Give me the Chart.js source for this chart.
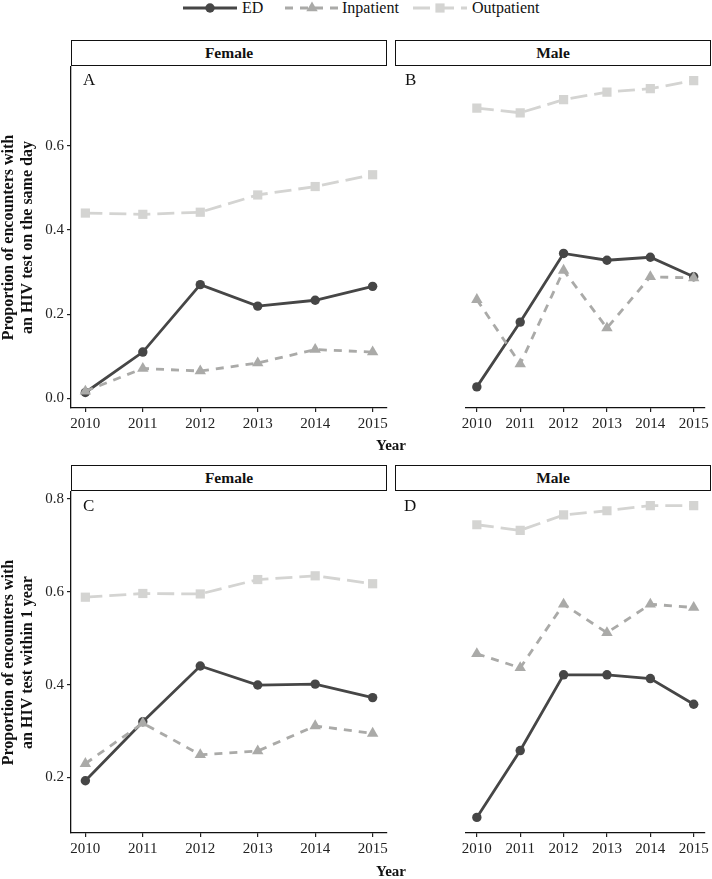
<!DOCTYPE html>
<html>
<head>
<meta charset="utf-8">
<script src="https://cdn.jsdelivr.net/npm/chart.js@4.4.1/dist/chart.umd.min.js"></script>
<style>
  body { margin: 0; background: #fff; overflow: hidden; font-family: "Liberation Serif", serif; color: #111; }
  #page { position: relative; width: 712px; height: 879px; }
  canvas { position: absolute; }
  .strip { position: absolute; box-sizing: border-box; height: 26px; border: 1px solid #111; background: #fff;
           font-family: "Liberation Serif", serif; font-weight: bold; font-size: 15.5px; text-align: center; line-height: 24px; }
  .tag { position: absolute; font-family: "Liberation Serif", serif; font-size: 17px; line-height: 17px; }
  .xtitle { position: absolute; left: 71px; width: 640px; text-align: center; font-family: "Liberation Serif", serif;
            font-weight: bold; font-size: 15px; line-height: 18px; }
  #legend { position: absolute; left: 0; top: 0; }
</style>
</head>
<body>
<div id="page">
  <svg id="legend" width="712" height="20"></svg>

  <div class="strip" style="left:71px; top:40px; width:316px;">Female</div>
  <div class="strip" style="left:395px; top:40px; width:316px;">Male</div>
  <div class="strip" style="left:71px; top:465px; width:316px;">Female</div>
  <div class="strip" style="left:395px; top:465px; width:316px;">Male</div>

  <canvas id="panelA" width="397" height="385" style="left:0; top:55px;"></canvas>
  <canvas id="panelB" width="327" height="385" style="left:385px; top:55px;"></canvas>
  <canvas id="panelC" width="397" height="385" style="left:0; top:480px;"></canvas>
  <canvas id="panelD" width="327" height="385" style="left:385px; top:480px;"></canvas>

  <div class="tag" style="left:83px; top:71px;">A</div>
  <div class="tag" style="left:405px; top:71px;">B</div>
  <div class="tag" style="left:83px; top:497px;">C</div>
  <div class="tag" style="left:404px; top:497px;">D</div>

  <div class="xtitle" style="top:436px;">Year</div>
  <div class="xtitle" style="top:862px;">Year</div>
</div>

<script>
// data
const years = [2010, 2011, 2012, 2013, 2014, 2015];

// same-day HIV test
const sameDayFemaleED  = [0.014, 0.110, 0.270, 0.219, 0.233, 0.266];
const sameDayFemaleIn  = [0.017, 0.071, 0.065, 0.084, 0.116, 0.110];
const sameDayFemaleOut = [0.440, 0.437, 0.442, 0.483, 0.503, 0.531];
const sameDayMaleED    = [0.027, 0.180, 0.342, 0.326, 0.333, 0.287];
const sameDayMaleIn    = [0.233, 0.081, 0.302, 0.166, 0.287, 0.284];
const sameDayMaleOut   = [0.685, 0.674, 0.705, 0.723, 0.731, 0.750];

// HIV test within 1 year
const oneYearFemaleED  = [0.193, 0.320, 0.440, 0.399, 0.401, 0.372];
const oneYearFemaleIn  = [0.230, 0.317, 0.249, 0.257, 0.311, 0.295];
const oneYearFemaleOut = [0.588, 0.596, 0.595, 0.626, 0.634, 0.617];
const oneYearMaleED    = [0.114, 0.257, 0.419, 0.419, 0.411, 0.356];
const oneYearMaleIn    = [0.464, 0.434, 0.570, 0.509, 0.570, 0.563];
const oneYearMaleOut   = [0.740, 0.728, 0.761, 0.770, 0.781, 0.781];

const sameDayTicks = [0, 0.2, 0.4, 0.6];
const oneYearTicks = [0.2, 0.4, 0.6, 0.8];

const sameDayTitle = ['Proportion of encounters with', 'an HIV test on the same day'];
const oneYearTitle = ['Proportion of encounters with', 'an HIV test within 1 year'];

const FONT = '"Liberation Serif", serif';
const colors = { ED: '#464646', Inpatient: '#aaaaa8', Outpatient: '#d4d4d2' };

// ggplot style range: data range expanded by 5% each side
function rowRange(arrays) {
  const all = [].concat(...arrays);
  const lo = Math.min(...all), hi = Math.max(...all);
  const pad = (hi - lo) * 0.05;
  return [lo - pad, hi + pad];
}
const sameDayRange = rowRange([sameDayFemaleED, sameDayFemaleIn, sameDayFemaleOut, sameDayMaleED, sameDayMaleIn, sameDayMaleOut]);
const oneYearRange = rowRange([oneYearFemaleED, oneYearFemaleIn, oneYearFemaleOut, oneYearMaleED, oneYearMaleIn, oneYearMaleOut]);

function toPoints(values) {
  return years.map((yr, i) => ({ x: yr, y: values[i] }));
}

function makePanel(id, ed, inp, out, range, yTicks, yTitle) {
  const showY = yTitle != null;
  const datasets = [
    { label: 'ED', data: toPoints(ed), borderColor: colors.ED, backgroundColor: colors.ED,
      borderWidth: 2.8, pointStyle: 'circle', pointRadius: 4.7, order: 3 },
    { label: 'Inpatient', data: toPoints(inp), borderColor: colors.Inpatient, backgroundColor: colors.Inpatient,
      borderWidth: 2.8, borderDash: [8, 7], pointStyle: 'triangle', pointRadius: 6.6, order: 2 },
    { label: 'Outpatient', data: toPoints(out), borderColor: colors.Outpatient, backgroundColor: colors.Outpatient,
      borderWidth: 2.8, borderDash: [17, 7], pointStyle: 'rect', pointRadius: 6.5, order: 1 }
  ];
  datasets.forEach(d => { d.pointBorderWidth = 0; d.tension = 0; });

  new Chart(document.getElementById(id), {
    type: 'line',
    data: { datasets: datasets },
    options: {
      responsive: false,
      animation: false,
      events: [],
      layout: { padding: { left: showY ? 0 : 10, right: showY ? 10 : 1, top: 10, bottom: 0 } },
      plugins: { legend: { display: false }, tooltip: { enabled: false } },
      scales: {
        x: {
          type: 'linear', min: 2009.75, max: 2015.25,
          afterBuildTicks: s => { s.ticks = years.map(v => ({ value: v })); },
          afterFit: s => { s.height = 32; },
          grid: { drawOnChartArea: false, drawTicks: true, tickLength: 4, color: '#222', lineWidth: 1.2 },
          border: { display: true, color: '#111', width: 1.3 },
          ticks: { color: '#222', padding: 3, font: { family: FONT, size: 15 }, maxRotation: 0,
                   callback: v => String(v) }
        },
        y: {
          display: showY,
          min: range[0], max: range[1],
          afterBuildTicks: s => { s.ticks = yTicks.map(v => ({ value: v })); },
          afterFit: s => { s.width = 71; },
          grid: { drawOnChartArea: false, drawTicks: true, tickLength: 4, color: '#222', lineWidth: 1.2 },
          border: { display: true, color: '#111', width: 1.3 },
          ticks: { color: '#222', padding: 3, font: { family: FONT, size: 15 },
                   callback: v => v.toFixed(1) },
          title: { display: showY, text: yTitle || '', color: '#111', padding: 0,
                   font: { family: FONT, size: 16, weight: 'bold', lineHeight: 1.15 } }
        }
      }
    }
  });
}

makePanel('panelA', sameDayFemaleED, sameDayFemaleIn, sameDayFemaleOut, sameDayRange, sameDayTicks, sameDayTitle);
makePanel('panelB', sameDayMaleED, sameDayMaleIn, sameDayMaleOut, sameDayRange, sameDayTicks, null);
makePanel('panelC', oneYearFemaleED, oneYearFemaleIn, oneYearFemaleOut, oneYearRange, oneYearTicks, oneYearTitle);
makePanel('panelD', oneYearMaleED, oneYearMaleIn, oneYearMaleOut, oneYearRange, oneYearTicks, null);

// legend along the top
const svg = document.getElementById('legend');
const NS = 'http://www.w3.org/2000/svg';
function add(tag, attrs, text) {
  const el = document.createElementNS(NS, tag);
  for (const k in attrs) el.setAttribute(k, attrs[k]);
  if (text) el.textContent = text;
  svg.appendChild(el);
}
const legendKeys = [
  { name: 'ED', x: 183, textX: 242, dash: 'none' },
  { name: 'Inpatient', x: 285, textX: 342, dash: '8 7' },
  { name: 'Outpatient', x: 413, textX: 472, dash: '17 7' }
];
legendKeys.forEach(k => {
  const c = colors[k.name];
  add('line', { x1: k.x, y1: 8, x2: k.x + 54, y2: 8, stroke: c, 'stroke-width': 2.8, 'stroke-dasharray': k.dash });
  const cx = k.x + 27;
  if (k.name === 'ED') add('circle', { cx: cx, cy: 8, r: 4.7, fill: c });
  if (k.name === 'Inpatient') add('polygon', { points: `${cx},1.5 ${cx + 5.7},11.3 ${cx - 5.7},11.3`, fill: c });
  if (k.name === 'Outpatient') add('rect', { x: cx - 4.6, y: 3.4, width: 9.2, height: 9.2, fill: c });
  add('text', { x: k.textX, y: 13, 'font-family': 'Liberation Serif', 'font-size': 16, fill: '#111' }, k.name);
});
</script>
</body>
</html>
